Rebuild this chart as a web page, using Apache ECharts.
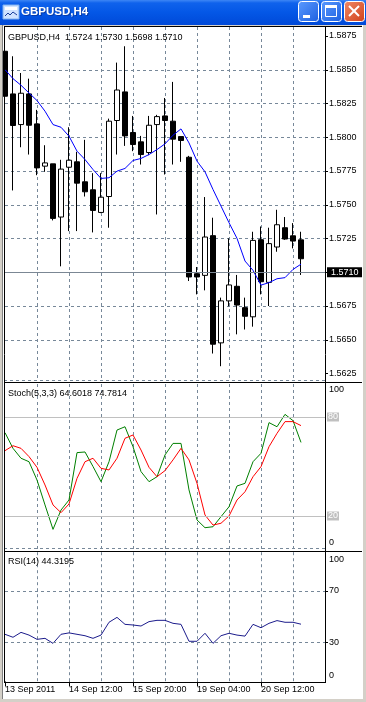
<!DOCTYPE html>
<html><head><meta charset="utf-8">
<script src="https://cdn.jsdelivr.net/npm/echarts@6/dist/echarts.min.js"></script>
<style>html,body{margin:0;padding:0;background:#fff;overflow:hidden}#c{width:366px;height:702px}</style>
</head><body><div id="c"></div>
<script>
// ---------------- data ----------------
const symbolName = 'GBPUSD,H4';
const firstDateLabel = '13 Sep 2011';
const times = ['13 Sep 04:00','13 Sep 08:00','13 Sep 12:00','13 Sep 16:00','13 Sep 20:00','14 Sep 00:00','14 Sep 04:00','14 Sep 08:00',
  '14 Sep 12:00','14 Sep 16:00','14 Sep 20:00','15 Sep 00:00','15 Sep 04:00','15 Sep 08:00','15 Sep 12:00','15 Sep 16:00',
  '15 Sep 20:00','16 Sep 00:00','16 Sep 04:00','16 Sep 08:00','16 Sep 12:00','16 Sep 16:00','16 Sep 20:00','19 Sep 00:00',
  '19 Sep 04:00','19 Sep 08:00','19 Sep 12:00','19 Sep 16:00','19 Sep 20:00','20 Sep 00:00','20 Sep 04:00','20 Sep 08:00',
  '20 Sep 12:00','20 Sep 16:00','20 Sep 20:00','21 Sep 00:00','21 Sep 04:00','21 Sep 08:00'];
const opens = [1.58637,1.58321,1.58094,1.58321,1.58099,1.57786,1.57803,1.57409,1.57778,1.57818,1.57670,1.57611,1.57443,1.57561,1.58124,1.58336,1.58035,1.57966,1.57887,1.58094,1.58158,1.58119,1.58005,1.57852,1.56989,1.56977,1.57271,1.56477,1.56788,1.56896,1.56738,1.56670,1.57241,1.56925,1.57187,1.57330,1.57270,1.5724];
const highs = [1.58674,1.58600,1.58476,1.58434,1.58203,1.57941,1.57803,1.57833,1.58074,1.57892,1.57981,1.57734,1.57734,1.58138,1.58553,1.58674,1.58158,1.58010,1.58158,1.58166,1.58291,1.58410,1.58005,1.57862,1.57039,1.57557,1.57404,1.56812,1.57251,1.56980,1.56812,1.57300,1.57339,1.57330,1.57463,1.57409,1.57364,1.5730];
const lows = [1.58290,1.57606,1.57926,1.57872,1.57719,1.57744,1.57384,1.57044,1.57305,1.57305,1.57561,1.57295,1.57438,1.57330,1.57872,1.57936,1.57897,1.57798,1.57867,1.57428,1.57724,1.57798,1.57818,1.56935,1.56836,1.56866,1.56398,1.56304,1.56748,1.56540,1.56576,1.56597,1.56836,1.56750,1.57152,1.57240,1.57177,1.5698];
const closes = [1.58304,1.58087,1.58326,1.58089,1.57773,1.57810,1.57399,1.57764,1.57830,1.57660,1.57596,1.57458,1.57556,1.58119,1.58350,1.58010,1.57946,1.57872,1.58089,1.58153,1.58124,1.57986,1.57976,1.56965,1.56965,1.57261,1.56467,1.56788,1.56906,1.56757,1.56674,1.57236,1.56930,1.57212,1.57352,1.57246,1.57231,1.5710];
const maValues = [1.58501,1.58434,1.58385,1.58328,1.58272,1.58193,1.58094,1.58074,1.58008,1.57897,1.57835,1.57761,1.57695,1.57700,1.57749,1.57769,1.57828,1.57843,1.57872,1.57909,1.57951,1.58015,1.58062,1.57958,1.57823,1.57744,1.57613,1.57490,1.57367,1.57251,1.57083,1.57014,1.56905,1.56923,1.56952,1.56960,1.57021,1.57060];
const stochMain = [70.5,61.0,55.0,52.9,41.8,26.7,11.9,23.6,29.7,58.4,58.8,50.0,40.8,52.9,72.1,74.1,62.0,46.9,40.8,43.8,57.0,64.0,64.0,35.8,17.6,12.9,13.5,19.6,25.6,38.2,39.8,52.9,58.0,76.6,74.1,81.6,77.8,64.6018];
const stochSignal = [59.6,62.6,61.0,56.0,49.5,38.8,26.7,22.0,27.3,42.8,52.9,55.0,48.9,47.9,55.0,67.1,69.1,60.0,49.5,43.8,47.5,54.0,61.0,54.0,39.8,20.6,14.5,15.6,20.0,29.7,34.7,43.8,49.9,62.0,70.1,77.2,77.2,74.7814];
const rsiValues = [36.5,34.2,38.0,35.9,32.6,33.4,29.5,36.5,37.6,36.5,35.4,33.4,35.9,45.8,49.6,44.2,43.7,42.9,46.3,47.3,47.3,45.0,44.2,31.1,31.1,37.3,29.5,35.4,37.3,35.9,35.1,44.2,41.6,45.0,47.1,45.8,45.8,44.3195];
const priceTicks = [1.5625,1.5650,1.5675,1.5700,1.5725,1.5750,1.5775,1.5800,1.5825,1.5850,1.5875];
const stochAxisLabels = [0,100];
const stochLevels = [20,80];
const rsiAxisLabels = [0,30,70,100];
const rsiLevels = [30,70];
const stochName = 'Stoch(5,3,3)';
const rsiName = 'RSI(14)';

// ---------------- chart ----------------
const FONT = '"Liberation Sans", Arial, sans-serif';
const GRIDC = '#778899';
const DASH = [3,3];
const cats = times.concat(['', '', '']);
const last = a => a[a.length - 1];

function xAxisFor(gi, showLabels) {
  return {
    type: 'category', gridIndex: gi, data: cats, boundaryGap: false,
    axisLine: {show: false},
    axisTick: showLabels ? {show: true, interval: (i) => i % 8 === 0 && i < times.length, length: 5, lineStyle: {color: '#000'}} : {show: false},
    axisLabel: showLabels ? {show: true, interval: (i) => i % 8 === 0 && i < times.length, align: 'left', margin: 4,
      color: '#000', fontFamily: FONT, fontSize: 9, formatter: (v, i) => (i === 0 ? firstDateLabel : v)} : {show: false},
    splitLine: {show: true, interval: (i) => i % 4 === 0 && i > 0 && i < cats.length - 1,
      lineStyle: {color: GRIDC, type: DASH, width: 1}}
  };
}
const lblBase = {color: '#000', fontFamily: FONT, fontSize: 9};

const gridCommon = {left: 5, width: 320, containLabel: false, outerBoundsMode: 'none', show: false};

const option = {
  animation: false,
  backgroundColor: '#ffffff',
  grid: [
    Object.assign({top: 27, height: 353}, gridCommon),
    Object.assign({top: 384, height: 165}, gridCommon),
    Object.assign({top: 552.2, height: 129.3}, gridCommon)
  ],
  xAxis: [xAxisFor(0, false), xAxisFor(1, false), xAxisFor(2, true)],
  yAxis: [
    {type: 'value', gridIndex: 0, position: 'right', min: 1.562019, max: 1.588167,
      axisLine: {show: false},
      axisTick: {show: true, customValues: priceTicks, length: 3, lineStyle: {color: '#000'}},
      axisLabel: Object.assign({customValues: priceTicks, margin: 4, formatter: v => Number(v).toFixed(4)}, lblBase),
      splitLine: {show: true, showMinLine: false, showMaxLine: false, lineStyle: {color: GRIDC, type: DASH, width: 1}}},
    {type: 'value', gridIndex: 1, position: 'right', min: 0, max: 100,
      axisLine: {show: false}, axisTick: {show: false}, splitLine: {show: false},
      axisLabel: Object.assign({customValues: stochAxisLabels, margin: 4,
        formatter: v => (v === 100 ? '{t|100}' : (v === 0 ? '{b|0}' : String(v))),
        rich: {t: Object.assign({padding: [12, 0, 0, 0]}, lblBase), b: Object.assign({padding: [0, 0, 12, 0]}, lblBase)}}, lblBase)},
    {type: 'value', gridIndex: 2, position: 'right', min: 0, max: 100,
      axisLine: {show: false},
      axisTick: {show: true, customValues: rsiLevels, length: 3, lineStyle: {color: '#000'}},
      splitLine: {show: false},
      axisLabel: Object.assign({customValues: rsiAxisLabels, margin: 4,
        formatter: v => (v === 100 ? '{t|100}' : (v === 0 ? '{b|0}' : String(v))),
        rich: {t: Object.assign({padding: [14, 0, 0, 0]}, lblBase), b: Object.assign({padding: [0, 0, 11, 0]}, lblBase)}}, lblBase)}
  ],
  series: [
    {type: 'candlestick', xAxisIndex: 0, yAxisIndex: 0, barWidth: 5, clip: false, silent: true,
      data: opens.map((o, i) => [o, closes[i], lows[i], highs[i]]),
      itemStyle: {color: '#ffffff', color0: '#000000', borderColor: '#000000', borderColor0: '#000000', borderColorDoji: '#000000', borderWidth: 1},
      markLine: {symbol: 'none', silent: true, animation: false,
        lineStyle: {color: '#7b8794', type: 'solid', width: 1},
        label: {position: 'end', distance: 2, formatter: () => last(closes).toFixed(4), backgroundColor: '#000', color: '#fff',
          padding: [1, 6, 0, 4], fontFamily: FONT, fontSize: 9},
        data: [{yAxis: last(closes)}]}},
    {type: 'line', xAxisIndex: 0, yAxisIndex: 0, data: maValues, symbol: 'none', silent: true,
      lineStyle: {color: '#0000ff', width: 1}},
    {type: 'line', xAxisIndex: 1, yAxisIndex: 1, data: stochMain, symbol: 'none', silent: true,
      lineStyle: {color: '#008000', width: 1},
      markLine: {symbol: 'none', silent: true, animation: false,
        lineStyle: {color: '#c0c0c0', type: 'solid', width: 1},
        label: {position: 'end', distance: 2, backgroundColor: '#c0c0c0', color: '#ffffff', padding: [0, 1, 0, 1], fontFamily: FONT, fontSize: 9,
          formatter: p => String(p.value)},
        data: stochLevels.map(v => ({yAxis: v}))}},
    {type: 'line', xAxisIndex: 1, yAxisIndex: 1, data: stochSignal, symbol: 'none', silent: true,
      lineStyle: {color: '#ff0000', width: 1}},
    {type: 'line', xAxisIndex: 2, yAxisIndex: 2, data: rsiValues, symbol: 'none', silent: true,
      lineStyle: {color: '#1c1c8c', width: 1},
      markLine: {symbol: 'none', silent: true, animation: false,
        lineStyle: {color: GRIDC, type: DASH, width: 1},
        label: {show: false},
        data: rsiLevels.map(v => ({yAxis: v}))}}
  ],
  graphic: []
};

// window chrome & panel borders
const g = [];
g.push({type: 'rect', shape: {x: 0, y: 0, width: 366, height: 25}, z: 200,
  style: {fill: {type: 'linear', x: 0, y: 0, x2: 0, y2: 1, colorStops: [
    {offset: 0, color: '#3d86f5'}, {offset: 0.12, color: '#0f62ec'}, {offset: 0.5, color: '#0457e6'}, {offset: 1, color: '#0049d8'}]}}});
g.push({type: 'rect', shape: {x: 3, y: 5, width: 16, height: 14}, z: 201, style: {fill: '#cfe3ff', stroke: '#7fb0ee', lineWidth: 1}});
g.push({type: 'rect', shape: {x: 5, y: 7, width: 12, height: 3}, z: 202, style: {fill: '#ffffff'}});
g.push({type: 'polyline', shape: {points: [[5, 16], [8, 13], [10, 15], [13, 12], [17, 15]]}, z: 202, style: {stroke: '#1a3f9a', lineWidth: 1, fill: null}});
g.push({type: 'text', x: 22, y: 12.5, z: 201, style: {text: symbolName, fill: '#0a2a80', font: 'bold 11.5px ' + FONT, verticalAlign: 'middle', align: 'left', opacity: 0.6}});
g.push({type: 'text', x: 21, y: 12, z: 202, style: {text: symbolName, fill: '#ffffff', font: 'bold 11.5px ' + FONT, verticalAlign: 'middle', align: 'left'}});
function btn(x, fillTop, fillBot) {
  g.push({type: 'rect', shape: {x: x + 0.5, y: 1.5, width: 20, height: 20, r: 3}, z: 203,
    style: {fill: {type: 'linear', x: 0, y: 0, x2: 1, y2: 1, colorStops: [{offset: 0, color: fillTop}, {offset: 1, color: fillBot}]}, stroke: '#ffffff', lineWidth: 1}});
}
btn(298, '#5b9bff', '#1c5fe0');
btn(321, '#5b9bff', '#1c5fe0');
btn(344, '#f08a66', '#d0401a');
g.push({type: 'rect', shape: {x: 303, y: 15, width: 7, height: 3}, z: 204, style: {fill: '#ffffff'}});
g.push({type: 'rect', shape: {x: 325.5, y: 5.5, width: 11, height: 11}, z: 204, style: {fill: null, stroke: '#ffffff', lineWidth: 1}});
g.push({type: 'rect', shape: {x: 325, y: 5, width: 12, height: 3}, z: 204, style: {fill: '#ffffff'}});
g.push({type: 'line', shape: {x1: 349, y1: 6, x2: 359, y2: 16}, z: 204, style: {stroke: '#ffffff', lineWidth: 2}});
g.push({type: 'line', shape: {x1: 359, y1: 6, x2: 349, y2: 16}, z: 204, style: {stroke: '#ffffff', lineWidth: 2}});
g.push({type: 'rect', shape: {x: 0, y: 25, width: 366, height: 1}, z: 200, style: {fill: '#d4d0c8'}});
g.push({type: 'rect', shape: {x: 0, y: 25, width: 3, height: 677}, z: 200, style: {fill: '#d4d0c8'}});
g.push({type: 'rect', shape: {x: 2, y: 25, width: 1, height: 677}, z: 200, style: {fill: '#808080'}});
g.push({type: 'rect', shape: {x: 362, y: 25, width: 4, height: 677}, z: 200, style: {fill: '#d4d0c8'}});
g.push({type: 'rect', shape: {x: 362, y: 25, width: 1, height: 677}, z: 200, style: {fill: '#ffffff'}});
g.push({type: 'rect', shape: {x: 0, y: 699, width: 366, height: 3}, z: 200, style: {fill: '#d4d0c8'}});
function hline(y, x1, x2, dashed) {
  g.push({type: 'line', shape: {x1: x1, y1: y, x2: x2, y2: y}, z: 150,
    style: {stroke: dashed ? GRIDC : '#000', lineWidth: 1, lineDash: dashed ? DASH : null}});
}
function vline(x, y1, y2) {
  g.push({type: 'line', shape: {x1: x, y1: y1, x2: x, y2: y2}, z: 150, style: {stroke: '#000', lineWidth: 1}});
}
hline(26.5, 4, 362, false);
hline(380.5, 4, 325, true);
hline(382.5, 4, 362, false);
hline(548.5, 4, 325, true);
hline(551.5, 4, 362, false);
hline(682.5, 4, 326, false);
vline(4.5, 26, 683);
vline(325.5, 26, 683);
g.push({type: 'text', x: 8, y: 37.5, z: 160, style: {text: symbolName + '  ' + [last(opens), last(highs), last(lows), last(closes)].map(v => v.toFixed(4)).join(' '),
  fill: '#000', font: '9px ' + FONT, verticalAlign: 'middle', align: 'left'}});
g.push({type: 'text', x: 8, y: 394, z: 160, style: {text: stochName + ' ' + last(stochMain).toFixed(4) + ' ' + last(stochSignal).toFixed(4),
  fill: '#000', font: '9px ' + FONT, verticalAlign: 'middle', align: 'left'}});
g.push({type: 'text', x: 8, y: 561.5, z: 160, style: {text: rsiName + ' ' + last(rsiValues).toFixed(4),
  fill: '#000', font: '9px ' + FONT, verticalAlign: 'middle', align: 'left'}});
option.graphic = g;

const chart = echarts.init(document.getElementById('c'), null, {renderer: 'canvas'});
chart.setOption(option);
</script>
</body></html>
